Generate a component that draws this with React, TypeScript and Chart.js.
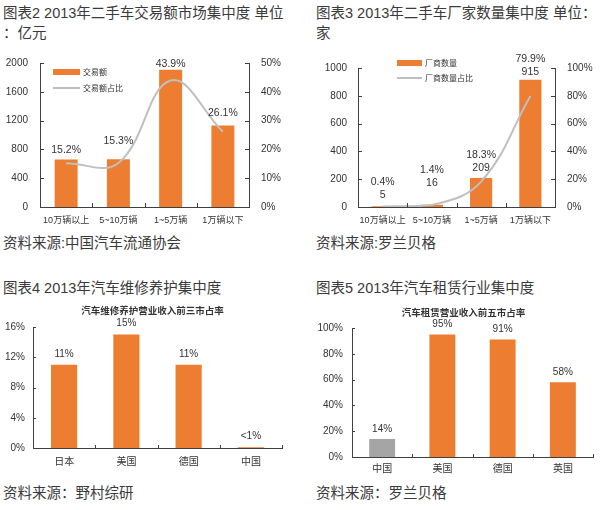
import { useEffect, useRef } from 'react';
import { Chart, registerables } from 'chart.js';
import type { ChartConfiguration, Plugin } from 'chart.js';

Chart.register(...registerables);

// 图表2 二手车交易额
const tradeCats = ['10万辆以上', '5~10万辆', '1~5万辆', '1万辆以下'];
const tradeAmount = [660, 664, 1905, 1133];
const tradeShare = [15.2, 15.3, 43.9, 26.1];

// 图表3 二手车厂家数量
const makerCats = ['10万辆以上', '5~10万辆', '1~5万辆', '1万辆以下'];
const makerCount = [5, 16, 209, 915];
const makerShare = [0.4, 1.4, 18.3, 79.9];

// 图表4 汽车维修养护
const repairCats = ['日本', '美国', '德国', '中国'];
const repairShare = [11, 15, 11, 0.1];
const repairLabels = ['11%', '15%', '11%', '<1%'];

// 图表5 汽车租赁
const rentalCats = ['中国', '美国', '德国', '英国'];
const rentalShare = [14, 95, 91, 58];

const ORANGE = '#ED7D31';
const GREY_LINE = '#BFBFBF';
const GREY_BAR = '#A5A5A5';
const AXIS = '#404040';
const TEXT = '#333333';
const LATIN = "'Liberation Sans', Arial, sans-serif";
const CJK = "'Noto Sans CJK SC', sans-serif";
const MIXED = "'Liberation Sans', 'Noto Sans CJK SC', sans-serif";

// 自绘：数据标签、内侧刻度、图例、小标题
const decor: Plugin = {
  id: 'decor',
  afterDatasetsDraw(chart, _args, opts: any) {
    const { ctx } = chart;
    if (!opts.labels) return;
    const { dataset, lines, gap, lift, lineHeight, font } = opts.labels;
    const meta = chart.getDatasetMeta(dataset);
    ctx.save();
    ctx.font = font;
    ctx.fillStyle = TEXT;
    ctx.textAlign = 'center';
    ctx.textBaseline = 'middle';
    meta.data.forEach((el: any, i: number) => {
      const rows: string[] = lines[i];
      const base = el.y - gap - ((lift && lift[i]) || 0);
      rows.forEach((t, j) => ctx.fillText(t, el.x, base - (rows.length - 1 - j) * lineHeight));
    });
    ctx.restore();
  },
  afterDraw(chart, _args, opts: any) {
    const { ctx, chartArea } = chart;
    ctx.save();
    // 刻度线朝内
    if (opts.tick) {
      const len = opts.tick;
      ctx.strokeStyle = AXIS;
      ctx.lineWidth = 1;
      Object.values(chart.scales).forEach((s: any) => {
        ctx.beginPath();
        if (s.axis === 'y') {
          s.ticks.forEach((_t: any, i: number) => {
            const y = Math.round(s.getPixelForTick(i)) + 0.5;
            if (s.position === 'left') {
              ctx.moveTo(s.right, y);
              ctx.lineTo(s.right + len, y);
            } else {
              ctx.moveTo(s.left, y);
              ctx.lineTo(s.left - len, y);
            }
          });
        } else {
          const n = s.ticks.length;
          for (let i = 0; i <= n; i++) {
            const x = Math.round(s.getPixelForValue(i - 0.5)) + 0.5;
            ctx.moveTo(x, s.top);
            ctx.lineTo(x, s.top - len);
          }
        }
        ctx.stroke();
      });
    }
    // 图例
    if (opts.legend) {
      const { dx, dy, rowGap, items, font, width } = opts.legend;
      const x = chartArea.left + dx;
      ctx.font = font;
      ctx.textBaseline = 'middle';
      ctx.textAlign = 'left';
      items.forEach((it: any, i: number) => {
        const y = chartArea.top + dy + i * rowGap;
        if (it.kind === 'box') {
          ctx.fillStyle = it.color;
          ctx.fillRect(x, y - 3, width, 6);
        } else {
          ctx.strokeStyle = it.color;
          ctx.lineWidth = 2;
          ctx.beginPath();
          ctx.moveTo(x, y);
          ctx.lineTo(x + width, y);
          ctx.stroke();
        }
        ctx.fillStyle = TEXT;
        ctx.fillText(it.text, x + width + 3, y);
      });
    }
    // 小标题
    if (opts.subtitle) {
      const { text, dx, dy, font } = opts.subtitle;
      ctx.font = font;
      ctx.fillStyle = TEXT;
      ctx.textAlign = 'center';
      ctx.textBaseline = 'middle';
      ctx.fillText(text, (chartArea.left + chartArea.right) / 2 + dx, chartArea.top + dy);
    }
    ctx.restore();
  },
};

const tickFont = { family: LATIN, size: 10 };

function xAxis(height: number, size: number, padding: number) {
  return {
    grid: { display: false, drawTicks: false },
    border: { color: AXIS },
    ticks: { color: TEXT, font: { family: MIXED, size }, padding, maxRotation: 0, autoSkip: false },
    afterFit: (s: any) => { s.height = height; },
  };
}

function yAxis(position: 'left' | 'right', width: number, max: number, step: number, padding: number, pct: boolean) {
  return {
    position,
    min: 0,
    max,
    grid: { display: false, drawTicks: false },
    border: { color: AXIS },
    ticks: {
      stepSize: step,
      color: TEXT,
      font: tickFont,
      padding,
      callback: (v: any) => (pct ? v + '%' : String(v)),
    },
    afterFit: (s: any) => { s.width = width; },
  };
}

function tradeConfig(): ChartConfiguration {
  return {
    type: 'bar',
    data: {
      labels: tradeCats,
      datasets: [
        { type: 'bar', label: '交易额', data: tradeAmount, backgroundColor: ORANGE, yAxisID: 'y', order: 1, barPercentage: 0.44, categoryPercentage: 1 },
        { type: 'line', label: '交易额占比', data: tradeShare, borderColor: GREY_LINE, borderWidth: 2, pointRadius: 0, tension: 0.4, yAxisID: 'y1', order: 0 },
      ] as any,
    },
    options: {
      animation: false,
      responsive: false,
      layout: { padding: { top: 11, left: 0, right: 0, bottom: 0 } },
      scales: {
        x: xAxis(23, 9, 8),
        y: yAxis('left', 40, 2000, 400, 12, false),
        y1: yAxis('right', 41, 50, 10, 12, true),
      } as any,
      plugins: {
        legend: { display: false },
        tooltip: { enabled: false },
        decor: {
          tick: 4,
          labels: { dataset: 0, lines: tradeShare.map(v => [v.toFixed(1) + '%']), gap: 9, lift: [0, 9, -3, 3], lineHeight: 13, font: `10.5px ${LATIN}` },
          legend: { dx: 13, dy: 9, rowGap: 16, width: 27, font: `8px ${CJK}`, items: [
            { kind: 'box', color: ORANGE, text: '交易额' },
            { kind: 'line', color: GREY_LINE, text: '交易额占比' },
          ] },
        },
      } as any,
    },
    plugins: [decor],
  };
}

function makerConfig(): ChartConfiguration {
  return {
    type: 'bar',
    data: {
      labels: makerCats,
      datasets: [
        { type: 'bar', label: '厂商数量', data: makerCount, backgroundColor: ORANGE, yAxisID: 'y', order: 1, barPercentage: 0.45, categoryPercentage: 1 },
        { type: 'line', label: '厂商数量占比', data: makerShare, borderColor: GREY_LINE, borderWidth: 2, pointRadius: 0, tension: 0.4, yAxisID: 'y1', order: 0 },
      ] as any,
    },
    options: {
      animation: false,
      responsive: false,
      layout: { padding: { top: 16, left: 0, right: 0, bottom: 0 } },
      scales: {
        x: xAxis(23, 9, 8),
        y: yAxis('left', 58, 1000, 200, 11, false),
        y1: yAxis('right', 45, 100, 20, 12, true),
      } as any,
      plugins: {
        legend: { display: false },
        tooltip: { enabled: false },
        decor: {
          tick: 4,
          labels: { dataset: 0, lines: makerCount.map((c, i) => [makerShare[i].toFixed(1) + '%', String(c)]), gap: 10, lift: [1, 12, 0, -2], lineHeight: 13, font: `10.5px ${LATIN}` },
          legend: { dx: 39, dy: -5, rowGap: 15, width: 25, font: `8px ${CJK}`, items: [
            { kind: 'box', color: ORANGE, text: '厂商数量' },
            { kind: 'line', color: GREY_LINE, text: '厂商数量占比' },
          ] },
        },
      } as any,
    },
    plugins: [decor],
  };
}

function repairConfig(): ChartConfiguration {
  return {
    type: 'bar',
    data: {
      labels: repairCats,
      datasets: [{ label: '市占率', data: repairShare, backgroundColor: ORANGE, barPercentage: 0.42, categoryPercentage: 1 }],
    },
    options: {
      animation: false,
      responsive: false,
      layout: { padding: { top: 27, left: 0, right: 18, bottom: 0 } },
      scales: {
        x: xAxis(27, 10, 8),
        y: yAxis('left', 33, 16, 4, 8, true),
      } as any,
      plugins: {
        legend: { display: false },
        tooltip: { enabled: false },
        decor: {
          tick: 3,
          labels: { dataset: 0, lines: repairLabels.map(t => [t]), gap: 11, lineHeight: 13, font: `10px ${LATIN}` },
          subtitle: { text: '汽车维修养护营业收入前三市占率', dx: -5, dy: -17, font: `bold 9.5px ${CJK}` },
        },
      } as any,
    },
    plugins: [decor],
  };
}

function rentalConfig(): ChartConfiguration {
  return {
    type: 'bar',
    data: {
      labels: rentalCats,
      datasets: [{
        label: '市占率',
        data: rentalShare,
        backgroundColor: rentalCats.map((_c, i) => (i === 0 ? GREY_BAR : ORANGE)),
        barPercentage: 0.43,
        categoryPercentage: 1,
      }],
    },
    options: {
      animation: false,
      responsive: false,
      layout: { padding: { top: 28, left: 0, right: 7, bottom: 0 } },
      scales: {
        x: xAxis(20, 10, 6),
        y: yAxis('left', 52, 100, 20, 9, true),
      } as any,
      plugins: {
        legend: { display: false },
        tooltip: { enabled: false },
        decor: {
          tick: 3,
          labels: { dataset: 0, lines: rentalShare.map(v => [v + '%']), gap: 10, lineHeight: 13, font: `10px ${LATIN}` },
          subtitle: { text: '汽车租赁营业收入前五市占率', dx: -9, dy: -16, font: `bold 9.5px ${CJK}` },
        },
      } as any,
    },
    plugins: [decor],
  };
}

interface BoxProps {
  make: () => ChartConfiguration;
  left: number;
  top: number;
  width: number;
  height: number;
}

function ChartBox({ make, left, top, width, height }: BoxProps) {
  const ref = useRef<HTMLCanvasElement>(null);
  useEffect(() => {
    if (!ref.current) return;
    const chart = new Chart(ref.current, make());
    return () => chart.destroy();
  }, [make]);
  return (
    <canvas
      ref={ref}
      width={width}
      height={height}
      style={{ position: 'absolute', left, top, width, height }}
    />
  );
}

function Text({ left, top, children }: { left: number; top: number; children: any }) {
  return (
    <div
      style={{
        position: 'absolute',
        left,
        top,
        fontFamily: MIXED,
        fontSize: 14.5,
        lineHeight: '20px',
        color: '#3a3a3a',
        whiteSpace: 'nowrap',
      }}
    >
      {children}
    </div>
  );
}

export default function App() {
  return (
    <div style={{ position: 'absolute', left: 0, top: 0, width: 600, height: 510, background: '#fff', overflow: 'hidden' }}>
      <Text left={3} top={3}>
        图表2 2013年二手车交易额市场集中度 单位<br />：亿元
      </Text>
      <Text left={316} top={3}>
        图表3 2013年二手车厂家数量集中度 单位：<br />家
      </Text>
      <ChartBox make={tradeConfig} left={0} top={45} width={290} height={185} />
      <ChartBox make={makerConfig} left={300} top={50} width={300} height={180} />
      <Text left={3} top={233}>资料来源:中国汽车流通协会</Text>
      <Text left={316} top={233}>资料来源:罗兰贝格</Text>

      <Text left={3} top={278}>图表4 2013年汽车维修养护集中度</Text>
      <Text left={316} top={278}>图表5 2013年汽车租赁行业集中度</Text>
      <ChartBox make={repairConfig} left={0} top={300} width={300} height={175} />
      <ChartBox make={rentalConfig} left={300} top={300} width={300} height={177} />
      <Text left={3} top={483}>资料来源：野村综研</Text>
      <Text left={316} top={483}>资料来源：罗兰贝格</Text>
    </div>
  );
}
